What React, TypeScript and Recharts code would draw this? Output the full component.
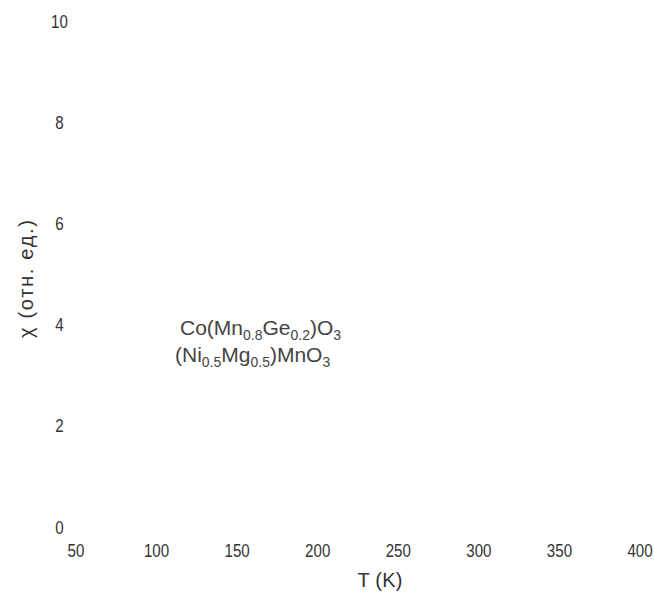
import React from "react";
import { ScatterChart, Scatter, XAxis, YAxis, Legend } from "recharts";

// scanned figure: only the captions survived, the markers are gone
const tempTicks = [50, 100, 150, 200, 250, 300, 350, 400];
const chiTicks = [0, 2, 4, 6, 8, 10];

const cmgPoints: { t: number; chi: number }[] = [];
const nmmPoints: { t: number; chi: number }[] = [];

const seriesNames = ["Co(Mn0.8Ge0.2)O3", "(Ni0.5Mg0.5)MnO3"];

// formula pieces, second item true = subscript
const formulas: [string, boolean][][] = [
  [["Co(Mn", false], ["0.8", true], ["Ge", false], ["0.2", true], [")O", false], ["3", true]],
  [["(Ni", false], ["0.5", true], ["Mg", false], ["0.5", true], [")MnO", false], ["3", true]],
];

const sans = "'Liberation Sans', Arial, Helvetica, sans-serif";

// tick digits in the scan are condensed, squeeze Liberation Sans horizontally
const NarrowLabel = ({ x, y, value }: { x: number; y: number; value: any }) => (
  <g transform={`translate(${x},${y}) scale(0.84,1)`}>
    <text x={0} y={0} textAnchor="middle" fontFamily={sans} fontSize={18} fill="#333">
      {value}
    </text>
  </g>
);

const YTick = ({ y, payload }: any) => <NarrowLabel x={59.5} y={y + 6.5} value={payload.value} />;

const XTick = ({ x, payload }: any) => <NarrowLabel x={x} y={557} value={payload.value} />;

const FormulaLegend = () => (
  <div style={{ fontFamily: sans, fontSize: 21, lineHeight: "27px", color: "#444", whiteSpace: "nowrap" }}>
    {formulas.map((parts, i) => (
      <div key={i} style={{ marginLeft: i === 0 ? 5 : 0 }}>
        {parts.map(([txt, sub], j) =>
          sub ? (
            <span key={j} style={{ fontSize: 14, position: "relative", top: 5, lineHeight: 0 }}>
              {txt}
            </span>
          ) : (
            <span key={j}>{txt}</span>
          )
        )}
      </div>
    ))}
  </div>
);

export default function App() {
  return (
    <div style={{ position: "absolute", left: 0, top: 0, background: "#fff" }}>
      <ScatterChart width={654} height={597} margin={{ top: 21, right: 14, bottom: 0, left: 0 }}>
        <XAxis
          type="number"
          dataKey="t"
          domain={[50, 400]}
          allowDataOverflow
          ticks={tempTicks}
          axisLine={false}
          tickLine={false}
          height={70}
          tick={(p: any) => <XTick {...p} />}
          label={{
            content: () => (
              <text x={380} y={587} textAnchor="middle" fontFamily={sans} fontSize={20} fill="#333"
                textLength={45} lengthAdjust="spacing">
                T (K)
              </text>
            ),
          }}
        />
        <YAxis
          type="number"
          dataKey="chi"
          domain={[0, 10]}
          allowDataOverflow
          ticks={chiTicks}
          axisLine={false}
          tickLine={false}
          width={76}
          tick={(p: any) => <YTick {...p} />}
          label={{
            content: () => (
              <text x={33} y={279} transform="rotate(-90, 33, 279)" textAnchor="middle" fontFamily={sans}
                fontSize={20} fill="#333" textLength={118} lengthAdjust="spacing">
                χ (отн. ед.)
              </text>
            ),
          }}
        />
        <Legend
          layout="horizontal"
          verticalAlign="middle"
          align="center"
          content={<FormulaLegend />}
          wrapperStyle={{ left: 175, top: 314, width: "auto", height: "auto" }}
        />
        <Scatter name={seriesNames[0]} data={cmgPoints} fill="#333" isAnimationActive={false} />
        <Scatter name={seriesNames[1]} data={nmmPoints} fill="#333" isAnimationActive={false} />
      </ScatterChart>
    </div>
  );
}
